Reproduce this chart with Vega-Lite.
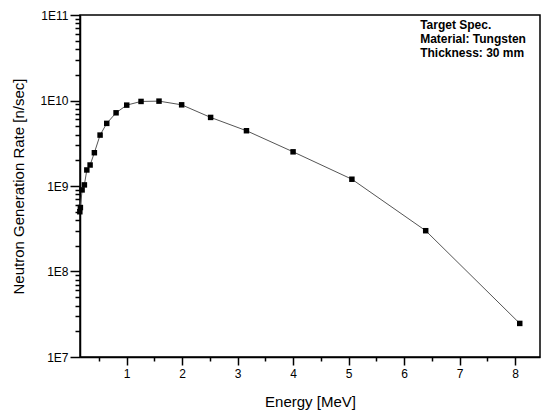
{
  "$schema": "https://vega.github.io/schema/vega-lite/v6.json",
  "autosize": "none",
  "width": 460,
  "height": 342,
  "padding": {"left": 80, "top": 15, "right": 2, "bottom": 55},
  "background": "white",
  "config": {
    "view": {"stroke": "black", "strokeWidth": 1.5},
    "font": "Liberation Sans"
  },
  "datasets": {
    "series": [
      {"energy": 0.157, "rate": 5.0e8},
      {"energy": 0.167, "rate": 5.6e8},
      {"energy": 0.198, "rate": 9.0e8},
      {"energy": 0.239, "rate": 1.03e9},
      {"energy": 0.283, "rate": 1.54e9},
      {"energy": 0.342, "rate": 1.76e9},
      {"energy": 0.419, "rate": 2.45e9},
      {"energy": 0.522, "rate": 3.94e9},
      {"energy": 0.642, "rate": 5.4e9},
      {"energy": 0.81, "rate": 7.18e9},
      {"energy": 1.002, "rate": 8.83e9},
      {"energy": 1.26, "rate": 9.75e9},
      {"energy": 1.584, "rate": 9.83e9},
      {"energy": 1.992, "rate": 8.9e9},
      {"energy": 2.514, "rate": 6.34e9},
      {"energy": 3.16, "rate": 4.43e9},
      {"energy": 4.0, "rate": 2.51e9},
      {"energy": 5.06, "rate": 1.2e9},
      {"energy": 6.39, "rate": 3.0e8},
      {"energy": 8.085, "rate": 2.47e7}
    ],
    "notes": [
      {"energy": 6.29, "rate": 7.6e10, "label": "Target Spec."},
      {"energy": 6.29, "rate": 5.3e10, "label": "Material: Tungsten"},
      {"energy": 6.29, "rate": 3.64e10, "label": "Thickness: 30 mm"}
    ]
  },
  "encoding": {
    "x": {
      "field": "energy",
      "type": "quantitative",
      "scale": {"domain": [0.16, 8.45], "nice": false, "zero": false},
      "axis": {
        "title": "Energy [MeV]",
        "values": [0.5, 1, 1.5, 2, 2.5, 3, 3.5, 4, 4.5, 5, 5.5, 6, 6.5, 7, 7.5, 8],
        "labelExpr": "datum.value % 1 == 0 ? datum.value : ''",
        "labelOverlap": false,
        "labelFont": "Liberation Sans",
        "labelFontSize": 12,
        "labelColor": "black",
        "labelPadding": 3,
        "tickColor": "black",
        "tickWidth": 1.5,
        "tickSize": {"condition": {"test": "datum.value % 1 == 0", "value": 8}, "value": 4},
        "domainColor": "black",
        "domainWidth": 1.5,
        "grid": false,
        "titleFont": "Liberation Sans",
        "titleFontSize": 15,
        "titleFontWeight": "normal",
        "titleColor": "black",
        "titlePadding": 15
      }
    },
    "y": {
      "field": "rate",
      "type": "quantitative",
      "scale": {"type": "log", "domain": [1e7, 1e11], "nice": false},
      "axis": {
        "title": "Neutron Generation Rate [n/sec]",
        "values": [1e7, 2e7, 3e7, 4e7, 5e7, 6e7, 7e7, 8e7, 9e7, 1e8, 2e8, 3e8, 4e8, 5e8, 6e8, 7e8, 8e8, 9e8, 1e9, 2e9, 3e9, 4e9, 5e9, 6e9, 7e9, 8e9, 9e9, 1e10, 2e10, 3e10, 4e10, 5e10, 6e10, 7e10, 8e10, 9e10, 1e11],
        "labelExpr": "abs(log(datum.value)/LN10 - round(log(datum.value)/LN10)) < 0.001 ? '1E' + round(log(datum.value)/LN10) : ''",
        "labelOverlap": false,
        "labelFont": "Liberation Sans",
        "labelFontSize": 12,
        "labelColor": "black",
        "labelPadding": 2,
        "tickColor": "black",
        "tickWidth": 1.5,
        "tickSize": {"condition": {"test": "abs(log(datum.value)/LN10 - round(log(datum.value)/LN10)) < 0.001", "value": 10}, "value": 5},
        "domainColor": "black",
        "domainWidth": 1.5,
        "grid": false,
        "titleFont": "Liberation Sans",
        "titleFontSize": 15,
        "titleFontWeight": "normal",
        "titleColor": "black",
        "titlePadding": 13
      }
    }
  },
  "layer": [
    {
      "data": {"name": "series"},
      "mark": {"type": "line", "color": "#555555", "strokeWidth": 1, "clip": true}
    },
    {
      "data": {"name": "series"},
      "mark": {"type": "point", "shape": "square", "filled": true, "color": "black", "size": 30, "opacity": 1}
    },
    {
      "data": {"name": "notes"},
      "mark": {"type": "text", "align": "left", "baseline": "middle", "font": "Liberation Sans", "fontSize": 12, "fontWeight": "bold", "color": "black"},
      "encoding": {"text": {"field": "label"}}
    }
  ]
}
